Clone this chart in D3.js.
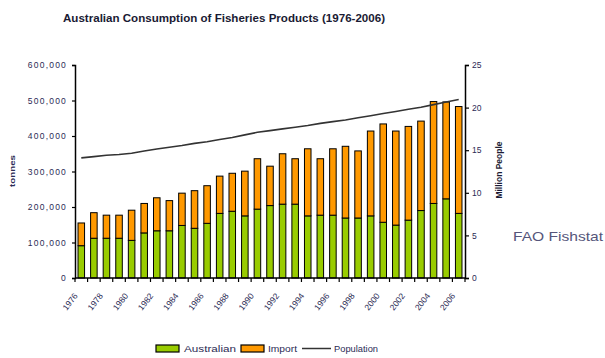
<!DOCTYPE html>
<html>
<head>
<meta charset="utf-8">
<script src="https://cdn.jsdelivr.net/npm/d3@7/dist/d3.min.js"></script>
<style>
  html, body { margin: 0; padding: 0; background: #fff; }
  svg { display: block; font-family: "Liberation Sans", Arial, sans-serif; }
</style>
</head>
<body>
<svg id="chart" width="605" height="358"></svg>
<script>
// Australian consumption of fisheries products, tonnes, and population (millions)
const years = d3.range(1976, 2007);
const australian = [91000, 112000, 112000, 112000, 106000, 127000, 133000, 133000, 148000, 140000,
  154000, 182000, 188000, 175000, 194000, 204000, 208000, 208000, 175000, 177000,
  177000, 169000, 169000, 175000, 157000, 149000, 163000, 190000, 210000, 223000, 182000];
const totals = [155000, 184000, 177000, 177000, 191000, 210000, 226000, 218000, 239000, 246000,
  260000, 287000, 295000, 301000, 336000, 315000, 350000, 336000, 364000, 336000,
  364000, 371000, 358000, 414000, 434000, 414000, 427000, 442000, 497000, 496000, 483000];
const imports = totals.map((t, i) => t - australian[i]);
const population = [14.1, 14.25, 14.4, 14.5, 14.65, 14.9, 15.15, 15.35, 15.55, 15.8,
  16.0, 16.25, 16.5, 16.8, 17.1, 17.3, 17.5, 17.7, 17.9, 18.15,
  18.35, 18.55, 18.8, 19.05, 19.3, 19.55, 19.8, 20.05, 20.35, 20.65, 20.95];
const leftTicks = [0, 100000, 200000, 300000, 400000, 500000, 600000];
const rightTicks = [0, 5, 10, 15, 20, 25];
const labelYears = years.filter(y => y % 2 === 0);

const svg = d3.select("#chart");
const m = { left: 75, right: 465, top: 65, bottom: 278 };
const textColor = "#2b2b55";

const x = d3.scaleBand().domain(years).range([m.left, m.right]).paddingInner(0.48).paddingOuter(0.24);
const xTicks = d3.scaleLinear().domain([0, years.length]).range([m.left, m.right]);
const yL = d3.scaleLinear().domain([0, 600000]).range([m.bottom, m.top]);
const yR = d3.scaleLinear().domain([0, 25]).range([m.bottom, m.top]);

// title
svg.append("text")
  .attr("x", 63).attr("y", 22)
  .attr("font-size", 10).attr("font-weight", "bold").attr("fill", "#1a1a33")
  .attr("textLength", 322).attr("lengthAdjust", "spacingAndGlyphs")
  .text("Australian Consumption of Fisheries Products (1976-2006)");

// stacked bars
const stack = years.map((yr, i) => ({ yr, a: australian[i], imp: imports[i] }));
const bars = svg.append("g");
bars.selectAll("rect.aus").data(stack).join("rect")
  .attr("x", d => x(d.yr)).attr("width", x.bandwidth())
  .attr("y", d => yL(d.a)).attr("height", d => yL(0) - yL(d.a))
  .attr("fill", "#99cc00").attr("stroke", "#000").attr("stroke-width", 1);
bars.selectAll("rect.imp").data(stack).join("rect")
  .attr("x", d => x(d.yr)).attr("width", x.bandwidth())
  .attr("y", d => yL(d.a + d.imp)).attr("height", d => yL(d.a) - yL(d.a + d.imp))
  .attr("fill", "#ff9900").attr("stroke", "#000").attr("stroke-width", 1);

// population line on the right axis
const line = d3.line()
  .x((d, i) => x(years[i]) + x.bandwidth() / 2)
  .y(d => yR(d));
svg.append("path").datum(population)
  .attr("d", line).attr("fill", "none")
  .attr("stroke", "#333").attr("stroke-width", 1.6);

// left axis
const axL = svg.append("g").attr("transform", `translate(${m.left},0)`)
  .call(d3.axisLeft(yL).tickValues(leftTicks).tickSize(3).tickPadding(5).tickFormat(d3.format(",")));
axL.select(".domain").attr("stroke-width", 1.5);
axL.selectAll(".tick line").attr("stroke-width", 1.2);
axL.selectAll("text").attr("font-size", 8.5).attr("letter-spacing", 1.2)
  .attr("fill", textColor).attr("font-family", "Liberation Sans, Arial, sans-serif");

// right axis
const axR = svg.append("g").attr("transform", `translate(${m.right},0)`)
  .call(d3.axisRight(yR).tickValues(rightTicks).tickSize(4));
axR.select(".domain").attr("stroke-width", 1.5);
axR.selectAll(".tick line").attr("stroke-width", 1.2);
axR.selectAll("text").attr("font-size", 8.5).attr("fill", textColor).attr("font-family", "Liberation Sans, Arial, sans-serif");

// category axis: ticks between bars
const axB = svg.append("g").attr("transform", `translate(0,${m.bottom})`);
axB.append("line").attr("x1", m.left).attr("x2", m.right).attr("stroke", "#000").attr("stroke-width", 1.5);
axB.selectAll("line.t").data(d3.range(0, years.length + 1)).join("line")
  .attr("x1", d => xTicks(d)).attr("x2", d => xTicks(d))
  .attr("y1", 0).attr("y2", 4).attr("stroke", "#000").attr("stroke-width", 1.2);
axB.selectAll("text").data(labelYears).join("text")
  .attr("transform", d => `translate(${x(d) + x.bandwidth() / 2 - 3},${18}) rotate(-52)`)
  .attr("text-anchor", "end").attr("font-size", 8.5).attr("fill", textColor)
  .text(d => d);

// axis titles
svg.append("text")
  .attr("transform", "translate(15,171) rotate(-90)")
  .attr("text-anchor", "middle").attr("font-size", 6.5).attr("font-weight", "bold").attr("fill", "#2b2b55")
  .attr("textLength", 32).attr("lengthAdjust", "spacingAndGlyphs")
  .text("tonnes");
svg.append("text")
  .attr("transform", "translate(502,170) rotate(-90)")
  .attr("text-anchor", "middle").attr("font-size", 8.5).attr("font-weight", "bold").attr("fill", "#1a1a33")
  .text("Million People");

// source note
svg.append("text")
  .attr("x", 513).attr("y", 241)
  .attr("font-size", 13).attr("fill", "#55557a")
  .attr("textLength", 90).attr("lengthAdjust", "spacingAndGlyphs")
  .text("FAO Fishstat");

// legend
const lg = svg.append("g").attr("font-size", 9).attr("fill", textColor);
lg.append("rect").attr("x", 156).attr("y", 345).attr("width", 23).attr("height", 7)
  .attr("fill", "#99cc00").attr("stroke", "#000").attr("stroke-width", 1.2);
lg.append("text").attr("x", 184).attr("y", 352).attr("textLength", 52).attr("lengthAdjust", "spacingAndGlyphs").text("Australian");
lg.append("rect").attr("x", 241).attr("y", 345).attr("width", 23).attr("height", 7)
  .attr("fill", "#ff9900").attr("stroke", "#000").attr("stroke-width", 1.2);
lg.append("text").attr("x", 268).attr("y", 352).attr("textLength", 29).attr("lengthAdjust", "spacingAndGlyphs").text("Import");
lg.append("line").attr("x1", 302).attr("x2", 331).attr("y1", 348.5).attr("y2", 348.5)
  .attr("stroke", "#333").attr("stroke-width", 1.5);
lg.append("text").attr("x", 334).attr("y", 352).attr("textLength", 44).attr("lengthAdjust", "spacingAndGlyphs").text("Population");
</script>
</body>
</html>
